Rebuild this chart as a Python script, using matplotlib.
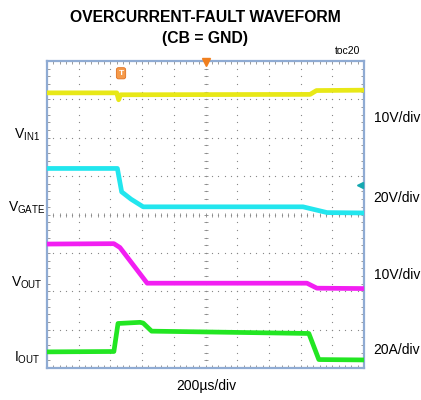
import numpy as np
import matplotlib
matplotlib.use("Agg")
from matplotlib import pyplot as plt

# time axis in microseconds (200us/div, 10 div), vertical in screen divisions (8 div)
vin_t = [-1000, -560, -548, -536, 660, 700, 1000]
vin_y = [7.17, 7.17, 6.99, 7.12, 7.13, 7.23, 7.24]

gate_t = [-1000, -556, -529, -470, -393, 615, 767, 1000]
gate_y = [5.20, 5.20, 4.59, 4.40, 4.20, 4.20, 4.05, 4.04]

vout_t = [-1000, -578, -540, -368, 640, 703, 1000]
vout_y = [3.23, 3.24, 3.14, 2.21, 2.21, 2.08, 2.07]

iout_t = [-1000, -578, -552, -413, -393, -340, 652, 715, 1000]
iout_y = [0.42, 0.43, 1.16, 1.19, 1.17, 0.96, 0.90, 0.22, 0.21]

left_labels = ["$\\mathregular{V_{IN1}}$", "$\\mathregular{V_{GATE}}$",
               "$\\mathregular{V_{OUT}}$", "$\\mathregular{I_{OUT}}$"]
right_labels = ["10V/div", "20V/div", "10V/div", "20A/div"]

plt.rcParams["font.family"] = ["Liberation Sans", "DejaVu Sans"]

fig = plt.figure(figsize=(4.21, 4.0), dpi=100)
ax = fig.add_axes([47 / 421, 32 / 400, 317 / 421, 307 / 400])
ax.set_xlim(-1000, 1000)
ax.set_ylim(0, 8)

# dotted graticule
minor_x = np.arange(-1000, 1001, 40)
minor_y = np.arange(0, 8.01, 0.2)
for gx in range(-800, 801, 200):
    ax.plot([gx] * len(minor_y), minor_y, ls="none", marker="o", ms=0.9,
            mew=0, color="#858585", zorder=1)
for gy in range(1, 8):
    ax.plot(minor_x, [gy] * len(minor_x), ls="none", marker="o", ms=0.9,
            mew=0, color="#858585", zorder=1)
# center cross with ticks
ax.plot(minor_x, [4] * len(minor_x), ls="none", marker="|", ms=3.5,
        mew=0.6, color="#8a8a8a", zorder=1)
ax.plot([0] * len(minor_y), minor_y, ls="none", marker="_", ms=3.5,
        mew=0.6, color="#8a8a8a", zorder=1)

ax.set_xticks(minor_x, minor=True)
ax.set_yticks(minor_y, minor=True)
ax.set_xticks([])
ax.set_yticks([])
ax.tick_params(which="minor", direction="in", top=True, right=True,
               length=2.5, width=0.6, color="#8a8a8a",
               labelbottom=False, labelleft=False)
for s in ax.spines.values():
    s.set_color("#8fabd3")
    s.set_linewidth(1.6)

# traces
ax.plot(vin_t, vin_y, color="#e8e817", lw=3.4, zorder=3)
ax.plot(gate_t, gate_y, color="#22e6ee", lw=3.4, zorder=3)
ax.plot(vout_t, vout_y, color="#f21ef2", lw=3.4, zorder=3)
ax.plot(iout_t, iout_y, color="#22e622", lw=3.4, zorder=3)

# trigger markers
ax.plot([0], [7.97], marker="v", ms=6, color="#f07f1e", clip_on=False, zorder=5)
ax.text(-533, 7.68, "T", ha="center", va="center", color="white", fontsize=6,
        fontweight="bold",
        bbox=dict(boxstyle="round,pad=0.25", fc="#f59a4a", ec="#e07020", lw=0.6))
ax.plot([975], [4.76], marker="<", ms=4, color="#14a8b0", zorder=5)

# channel labels
for lab, py in zip(left_labels, [135, 208, 283, 358]):
    fig.text(27 / 421, 1 - py / 400, lab, ha="center", va="center",
             fontsize=10)
for lab, py in zip(right_labels, [118, 198, 275, 350]):
    fig.text(397 / 421, 1 - py / 400, lab, ha="center", va="center",
             fontsize=10)

fig.text(205 / 421, 1 - 17 / 400, "OVERCURRENT-FAULT WAVEFORM", ha="center",
         va="center", fontsize=11.3, fontweight="bold")
fig.text(205 / 421, 1 - 38 / 400, "(CB = GND)", ha="center",
         va="center", fontsize=11.3, fontweight="bold")
fig.text(360 / 421, 1 - 51 / 400, "toc20", ha="right", va="center",
         fontsize=7.5)
fig.text(206 / 421, 1 - 386 / 400, "200\u00b5s/div", ha="center", va="center",
         fontsize=10)

fig.savefig("out.png", dpi=100)
